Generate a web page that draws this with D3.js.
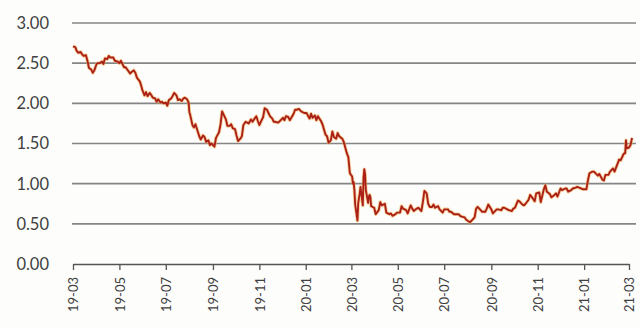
<!DOCTYPE html>
<html>
<head>
<meta charset="utf-8">
<script src="https://cdn.jsdelivr.net/npm/d3@7"></script>
<style>
  html, body { margin: 0; padding: 0; background: #fdfdfc; }
  svg { display: block; }
  text { font-family: Lato, "Open Sans", sans-serif; fill: #3f3f3f; }
</style>
</head>
<body>
<svg id="chart" width="640" height="327"></svg>
<script>
// Daily-ish yield readings (percent)
const dates = [
  "2019-03-01","2019-03-04","2019-03-06","2019-03-08","2019-03-11","2019-03-13","2019-03-15","2019-03-18","2019-03-20","2019-03-22",
  "2019-03-25","2019-03-27","2019-03-29","2019-04-01","2019-04-03","2019-04-05","2019-04-08","2019-04-10","2019-04-12","2019-04-15",
  "2019-04-17","2019-04-19","2019-04-23","2019-04-25","2019-04-29","2019-05-01","2019-05-03","2019-05-07","2019-05-09","2019-05-13",
  "2019-05-15","2019-05-17","2019-05-20","2019-05-22","2019-05-24","2019-05-28","2019-05-30","2019-05-31","2019-06-03","2019-06-05",
  "2019-06-07","2019-06-10","2019-06-12","2019-06-14","2019-06-17","2019-06-19","2019-06-21","2019-06-24","2019-06-26","2019-06-28",
  "2019-07-01","2019-07-03","2019-07-05","2019-07-08","2019-07-10","2019-07-12","2019-07-15","2019-07-17","2019-07-19","2019-07-22",
  "2019-07-24","2019-07-26","2019-07-29","2019-07-31","2019-08-01","2019-08-02","2019-08-05","2019-08-07","2019-08-09","2019-08-12",
  "2019-08-14","2019-08-16","2019-08-19","2019-08-21","2019-08-23","2019-08-26","2019-08-28","2019-08-30","2019-09-03","2019-09-05",
  "2019-09-09","2019-09-11","2019-09-13","2019-09-16","2019-09-18","2019-09-20","2019-09-23","2019-09-25","2019-09-27","2019-09-30",
  "2019-10-02","2019-10-04","2019-10-07","2019-10-09","2019-10-11","2019-10-14","2019-10-16","2019-10-18","2019-10-21","2019-10-23",
  "2019-10-25","2019-10-28","2019-10-30","2019-11-01","2019-11-04","2019-11-06","2019-11-08","2019-11-11","2019-11-13","2019-11-15",
  "2019-11-18","2019-11-20","2019-11-22","2019-11-25","2019-11-27","2019-12-02","2019-12-04","2019-12-06","2019-12-09","2019-12-11",
  "2019-12-13","2019-12-16","2019-12-18","2019-12-20","2019-12-23","2019-12-26","2019-12-30","2020-01-02","2020-01-06","2020-01-08",
  "2020-01-10","2020-01-13","2020-01-15","2020-01-17","2020-01-21","2020-01-23","2020-01-27","2020-01-29","2020-01-31","2020-02-03",
  "2020-02-05","2020-02-07","2020-02-10","2020-02-12","2020-02-14","2020-02-18","2020-02-20","2020-02-24","2020-02-26","2020-02-28",
  "2020-03-02","2020-03-03","2020-03-04","2020-03-05","2020-03-06","2020-03-09","2020-03-10","2020-03-11","2020-03-12","2020-03-13",
  "2020-03-16","2020-03-17","2020-03-18","2020-03-19","2020-03-20","2020-03-23","2020-03-24","2020-03-25","2020-03-26","2020-03-27",
  "2020-03-31","2020-04-02","2020-04-06","2020-04-08","2020-04-10","2020-04-14","2020-04-16","2020-04-20","2020-04-22","2020-04-24",
  "2020-04-28","2020-04-30","2020-05-04","2020-05-06","2020-05-08","2020-05-12","2020-05-14","2020-05-18","2020-05-20","2020-05-22",
  "2020-05-26","2020-05-28","2020-06-01","2020-06-03","2020-06-05","2020-06-08","2020-06-10","2020-06-12","2020-06-15","2020-06-17",
  "2020-06-19","2020-06-23","2020-06-25","2020-06-29","2020-07-01","2020-07-06","2020-07-08","2020-07-10","2020-07-14","2020-07-16",
  "2020-07-20","2020-07-22","2020-07-24","2020-07-28","2020-07-30","2020-08-04","2020-08-06","2020-08-10","2020-08-12","2020-08-14",
  "2020-08-18","2020-08-20","2020-08-24","2020-08-26","2020-08-28","2020-09-01","2020-09-03","2020-09-08","2020-09-10","2020-09-14",
  "2020-09-16","2020-09-18","2020-09-22","2020-09-24","2020-09-28","2020-09-30","2020-10-02","2020-10-06","2020-10-08","2020-10-12",
  "2020-10-14","2020-10-16","2020-10-20","2020-10-22","2020-10-26","2020-10-28","2020-10-30","2020-11-03","2020-11-05","2020-11-09",
  "2020-11-11","2020-11-13","2020-11-17","2020-11-19","2020-11-23","2020-11-25","2020-11-27","2020-12-01","2020-12-03","2020-12-07",
  "2020-12-09","2020-12-11","2020-12-15","2020-12-17","2020-12-21","2020-12-23","2020-12-28","2020-12-31","2021-01-04","2021-01-06",
  "2021-01-08","2021-01-12","2021-01-14","2021-01-19","2021-01-21","2021-01-25","2021-01-27","2021-01-29","2021-02-02","2021-02-04",
  "2021-02-08","2021-02-10","2021-02-12","2021-02-16","2021-02-18","2021-02-22","2021-02-24","2021-02-25","2021-02-26","2021-03-01",
  "2021-03-03","2021-03-05"
];
const yields = [
  2.71,2.70,2.65,2.63,2.64,2.61,2.59,2.60,2.53,2.44,
  2.42,2.38,2.41,2.49,2.50,2.50,2.52,2.49,2.56,2.55,
  2.59,2.57,2.57,2.53,2.52,2.50,2.53,2.45,2.45,2.40,
  2.37,2.39,2.41,2.38,2.32,2.27,2.21,2.17,2.10,2.14,
  2.09,2.13,2.10,2.07,2.06,2.02,2.05,2.01,2.02,2.00,
  2.01,1.97,2.04,2.06,2.09,2.13,2.10,2.04,2.05,2.03,
  2.06,2.07,2.05,2.01,1.89,1.86,1.73,1.70,1.74,1.65,
  1.59,1.55,1.60,1.58,1.52,1.54,1.48,1.50,1.46,1.57,
  1.64,1.74,1.90,1.84,1.80,1.72,1.72,1.74,1.69,1.68,
  1.60,1.53,1.56,1.59,1.73,1.77,1.76,1.75,1.80,1.77,
  1.80,1.84,1.78,1.73,1.79,1.83,1.94,1.92,1.88,1.84,
  1.81,1.77,1.77,1.76,1.77,1.82,1.79,1.84,1.83,1.79,
  1.82,1.87,1.92,1.92,1.93,1.90,1.88,1.88,1.81,1.87,
  1.82,1.85,1.79,1.84,1.78,1.74,1.61,1.59,1.51,1.54,
  1.65,1.58,1.56,1.63,1.59,1.56,1.52,1.38,1.33,1.13,
  1.09,1.00,1.02,0.92,0.74,0.54,0.76,0.82,0.88,0.96,
  0.73,1.08,1.18,1.12,0.92,0.76,0.84,0.86,0.83,0.72,
  0.70,0.62,0.67,0.77,0.73,0.75,0.64,0.62,0.63,0.60,
  0.62,0.64,0.64,0.72,0.69,0.67,0.63,0.73,0.69,0.66,
  0.69,0.70,0.66,0.77,0.91,0.88,0.75,0.71,0.71,0.74,
  0.70,0.72,0.68,0.64,0.68,0.68,0.65,0.65,0.62,0.62,
  0.62,0.60,0.59,0.58,0.55,0.52,0.54,0.58,0.69,0.71,
  0.67,0.65,0.65,0.69,0.74,0.68,0.63,0.68,0.68,0.67,
  0.70,0.70,0.68,0.67,0.66,0.69,0.70,0.79,0.78,0.74,
  0.73,0.75,0.80,0.86,0.81,0.78,0.88,0.89,0.77,0.93,
  0.98,0.90,0.87,0.83,0.86,0.88,0.84,0.94,0.92,0.94,
  0.94,0.90,0.92,0.94,0.95,0.96,0.94,0.93,0.93,1.04,
  1.13,1.15,1.15,1.10,1.12,1.05,1.04,1.11,1.11,1.15,
  1.19,1.15,1.20,1.30,1.29,1.37,1.38,1.54,1.44,1.45,
  1.48,1.57
];
const yTicks = [0, 0.5, 1, 1.5, 2, 2.5, 3];
const xDomain = ["2019-03-01", "2021-03-01"];

const parse = d3.utcParse("%Y-%m-%d");
const series = dates.map((d, i) => ({ date: parse(d), value: yields[i] }));

const svg = d3.select("#chart");

const x = d3.scaleUtc().domain(xDomain.map(parse)).range([73, 629]);
const y = d3.scaleLinear().domain([0, 3]).range([264, 23]);

// horizontal gridlines
svg.append("g")
  .selectAll("line")
  .data(yTicks.filter(t => t > 0))
  .join("line")
  .attr("x1", 72).attr("x2", 636)
  .attr("y1", d => y(d)).attr("y2", d => y(d))
  .attr("stroke", "#858585")
  .attr("stroke-width", 1.6);

// y labels
svg.append("g")
  .selectAll("text")
  .data(yTicks)
  .join("text")
  .attr("x", 49)
  .attr("y", d => y(d))
  .attr("dy", "0.36em")
  .attr("text-anchor", "end")
  .style("font-size", "16.5px")
  .text(d3.format(".2f"));

// bottom time axis
const xAxis = d3.axisBottom(x)
  .tickValues(d3.utcMonth.every(2).range(parse("2019-03-01"), parse("2021-03-02")))
  .tickFormat(d3.utcFormat("%y-%m"))
  .tickSize(6)
  .tickSizeOuter(0);

const gx = svg.append("g")
  .attr("transform", `translate(0,${y(0)})`)
  .call(xAxis);
gx.select(".domain").attr("stroke", "#555").attr("stroke-width", 1.3);
gx.selectAll(".tick line").attr("stroke", "#555").attr("stroke-width", 1.3);
gx.selectAll(".tick text")
  .attr("transform", "rotate(-90)")
  .attr("x", -13)
  .attr("y", 0)
  .attr("dy", "0.36em")
  .attr("text-anchor", "end")
  .style("font-size", "13px")
  .style("font-family", "Lato, 'Open Sans', sans-serif")
  .attr("fill", "#3f3f3f");

// yield line with a soft warm edge under the main stroke
const line = d3.line()
  .x(d => x(d.date))
  .y(d => y(d.value))
  .curve(d3.curveLinear);

svg.append("path")
  .datum(series)
  .attr("d", line)
  .attr("fill", "none")
  .attr("stroke", "#f0b050")
  .attr("stroke-opacity", 0.55)
  .attr("stroke-width", 3.6)
  .attr("stroke-linejoin", "round");

svg.append("path")
  .datum(series)
  .attr("d", line)
  .attr("fill", "none")
  .attr("stroke", "#ab2119")
  .attr("stroke-width", 1.9)
  .attr("stroke-linejoin", "round");
</script>
</body>
</html>
